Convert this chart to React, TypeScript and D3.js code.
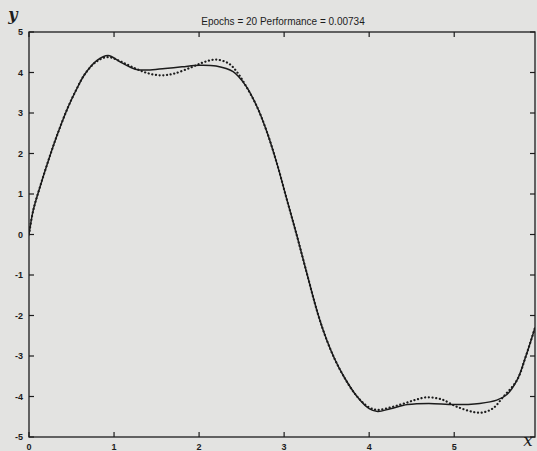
import React from "react";
import * as d3 from "d3";

// Network output (solid line)
const outX = [0, 0.05, 0.13, 0.23, 0.33, 0.45, 0.55, 0.66, 0.8, 0.93, 1.08, 1.25, 1.4, 1.6, 1.8, 2.0, 2.2, 2.4, 2.55, 2.68, 2.8, 2.92, 3.03, 3.14, 3.25, 3.4, 3.5, 3.6, 3.7, 3.85, 4.0, 4.1, 4.25, 4.45, 4.7, 5.0, 5.3, 5.5, 5.62, 5.74, 5.84, 5.95];
const outY = [0, 0.6, 1.18, 1.84, 2.45, 3.1, 3.55, 3.97, 4.3, 4.42, 4.25, 4.08, 4.06, 4.1, 4.14, 4.18, 4.16, 4.02, 3.67, 3.16, 2.52, 1.72, 0.88, 0.05, -0.82, -1.98, -2.6, -3.1, -3.5, -3.98, -4.3, -4.37, -4.3, -4.2, -4.17, -4.2, -4.17, -4.09, -3.95, -3.59, -3.02, -2.3];

// Target function (dotted line)
const tgtX = [0, 0.05, 0.13, 0.23, 0.33, 0.45, 0.55, 0.66, 0.8, 0.93, 1.08, 1.25, 1.4, 1.55, 1.7, 1.9, 2.05, 2.2, 2.35, 2.45, 2.55, 2.68, 2.8, 2.92, 3.03, 3.14, 3.25, 3.4, 3.5, 3.6, 3.7, 3.85, 4.0, 4.1, 4.25, 4.4, 4.55, 4.68, 4.85, 5.05, 5.3, 5.45, 5.58, 5.74, 5.84, 5.95];
const tgtY = [0, 0.6, 1.18, 1.84, 2.45, 3.1, 3.55, 3.97, 4.28, 4.38, 4.27, 4.1, 3.98, 3.93, 3.97, 4.12, 4.25, 4.32, 4.22, 4.0, 3.67, 3.16, 2.52, 1.72, 0.88, 0.05, -0.82, -1.98, -2.6, -3.1, -3.5, -3.98, -4.27, -4.33, -4.27, -4.18, -4.08, -4.02, -4.07, -4.27, -4.4, -4.3, -4.0, -3.59, -3.02, -2.3];

const xTicks = [0, 1, 2, 3, 4, 5];
const yTicks = [-5, -4, -3, -2, -1, 0, 1, 2, 3, 4, 5];
const titleText = "Epochs = 20 Performance = 0.00734";

const W = 537;
const H = 451;
const left = 29, right = 535, top = 32, bottom = 437;

export default function App() {
  const x = d3.scaleLinear().domain([0, 5.95]).range([left, right]);
  const y = d3.scaleLinear().domain([-5, 5]).range([bottom, top]);

  const line = (xs: number[], ys: number[]) =>
    d3
      .line<number>()
      .x((_, i) => x(xs[i]))
      .y((d) => y(d))
      .curve(d3.curveCatmullRom.alpha(0.5))(ys) || "";

  const tickFont = "'Liberation Sans', Arial, sans-serif";
  const ink = "#1c1c1c";

  return (
    <svg
      width={W}
      height={H}
      viewBox={`0 0 ${W} ${H}`}
      style={{ position: "fixed", left: 0, top: 0, display: "block" }}
    >
      <rect x={0} y={0} width={W} height={H} fill="#e3e3e1" />

      <defs>
        <clipPath id="plotArea">
          <rect x={left} y={top} width={right - left} height={bottom - top} />
        </clipPath>
      </defs>

      {/* curves */}
      <g clipPath="url(#plotArea)">
        <path d={line(outX, outY)} fill="none" stroke={ink} strokeWidth={1.5} />
        <path
          d={line(tgtX, tgtY)}
          fill="none"
          stroke={ink}
          strokeWidth={2.2}
          strokeLinecap="round"
          strokeDasharray="0.1 3.6"
        />
      </g>

      {/* frame */}
      <rect
        x={left}
        y={top}
        width={right - left}
        height={bottom - top}
        fill="none"
        stroke={ink}
        strokeWidth={1.3}
      />

      {/* x ticks */}
      {xTicks.map((t) => (
        <g key={"x" + t}>
          <line x1={x(t)} x2={x(t)} y1={bottom} y2={bottom - 5} stroke={ink} strokeWidth={1.2} />
          <line x1={x(t)} x2={x(t)} y1={top} y2={top + 5} stroke={ink} strokeWidth={1.2} />
          <text
            x={x(t)}
            y={450}
            textAnchor="middle"
            fontFamily={tickFont}
            fontWeight="bold"
            fontSize={9}
            fill={ink}
          >
            {t}
          </text>
        </g>
      ))}

      {/* y ticks */}
      {yTicks.map((t) => (
        <g key={"y" + t}>
          <line x1={left} x2={left + 5} y1={y(t)} y2={y(t)} stroke={ink} strokeWidth={1.2} />
          <line x1={right} x2={right - 5} y1={y(t)} y2={y(t)} stroke={ink} strokeWidth={1.2} />
          <text
            x={23}
            y={y(t) + 3}
            textAnchor="end"
            fontFamily={tickFont}
            fontWeight="bold"
            fontSize={9}
            fill={ink}
          >
            {t}
          </text>
        </g>
      ))}

      {/* title */}
      <text
        x={283}
        y={25}
        textAnchor="middle"
        fontFamily={tickFont}
        fontSize={10}
        fill={ink}
      >
        {titleText}
      </text>

      {/* axis names */}
      <text
        x={13}
        y={20}
        textAnchor="middle"
        fontFamily="'DejaVu Serif', 'Liberation Serif', serif"
        fontStyle="italic"
        fontWeight="bold"
        fontSize={16}
        fill={ink}
      >
        y
      </text>
      <text
        x={528}
        y={446}
        textAnchor="middle"
        fontFamily="'DejaVu Serif', 'Liberation Serif', serif"
        fontStyle="italic"
        fontSize={17}
        fill={ink}
      >
        x
      </text>
    </svg>
  );
}
